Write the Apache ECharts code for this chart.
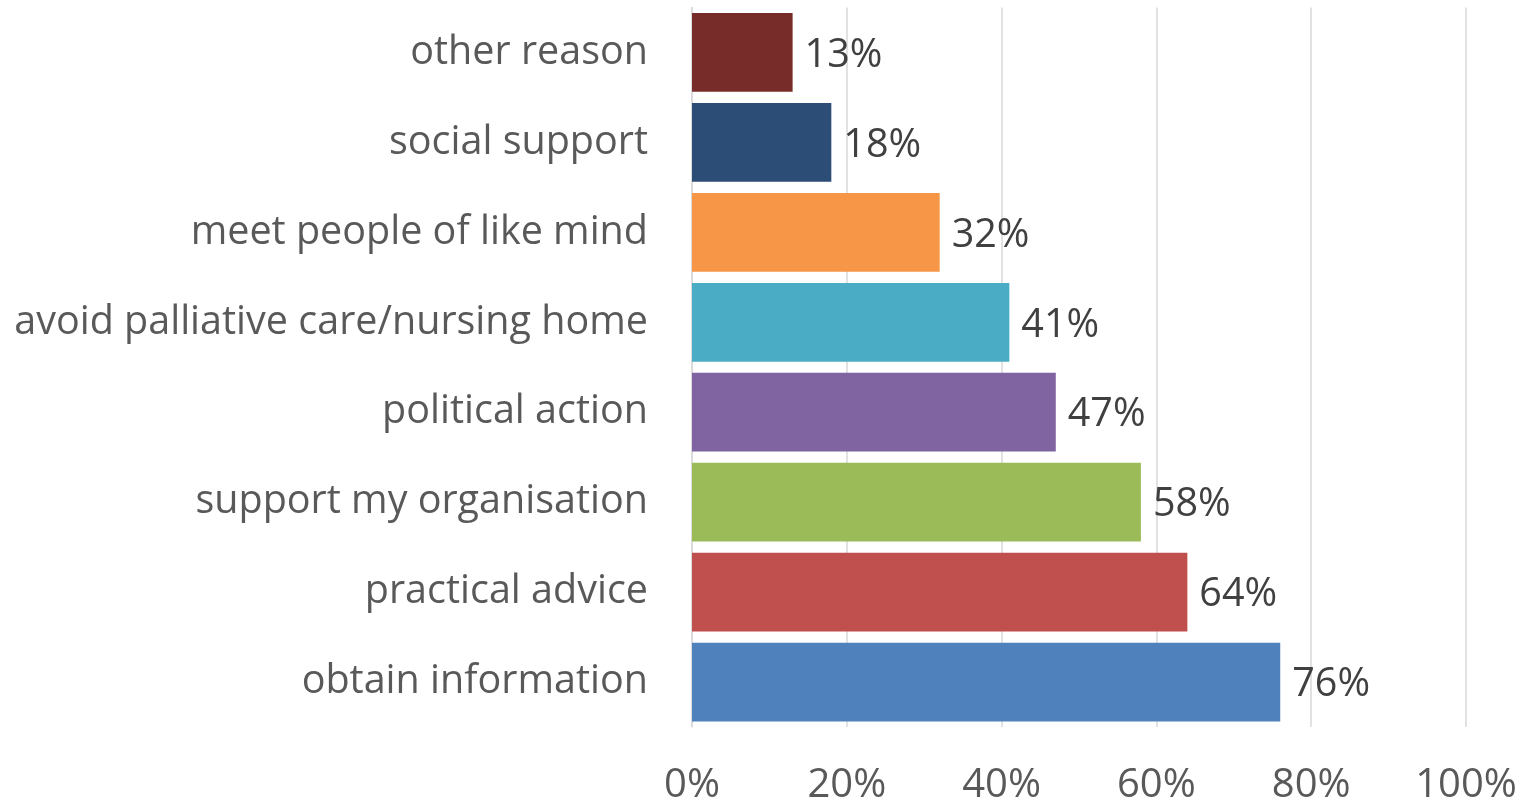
<!DOCTYPE html>
<html>
<head>
<meta charset="utf-8">
<script src="https://cdn.jsdelivr.net/npm/echarts@6/dist/echarts.min.js"></script>
<style>
    html, body { margin: 0; padding: 0; background: #fff; }
    #chart { width: 1524px; height: 801px; }
</style>
</head>
<body>
<div id="chart"></div>
<script>
// bottom to top, as the category axis draws them
var categories = ['obtain information', 'practical advice', 'support my organisation', 'political action',
    'avoid palliative care/nursing home', 'meet people of like mind', 'social support', 'other reason'];
var values = [76, 64, 58, 47, 41, 32, 18, 13];
var barColors = ['#4F81BD', '#C0504D', '#9BBB59', '#8064A2', '#4BACC6', '#F79646', '#2C4D75', '#772C2A'];
var xTicks = [0, 20, 40, 60, 80, 100];

var font = 'Open Sans';
var chart = echarts.init(document.getElementById('chart'));
chart.setOption({
    animation: false,
    grid: {
        left: 692,
        right: 58,
        top: 7.5,
        bottom: 74,
        containLabel: false,
        outerBoundsMode: 'none'
    },
    xAxis: {
        type: 'value',
        min: xTicks[0],
        max: xTicks[xTicks.length - 1],
        interval: 20,
        axisLine: {show: false},
        axisTick: {show: false},
        splitLine: {lineStyle: {color: '#d9d9d9', width: 1.5}},
        axisLabel: {
            formatter: '{value}%',
            color: '#595959',
            fontFamily: font,
            fontSize: 40,
            margin: 39
        }
    },
    yAxis: {
        type: 'category',
        data: categories,
        axisLine: {lineStyle: {color: '#d9d9d9', width: 1.5}},
        axisTick: {show: false},
        axisLabel: {
            color: '#595959',
            fontFamily: font,
            fontSize: 39.5,
            margin: 44,
            padding: [2, 0, 0, 0]
        }
    },
    series: [{
        type: 'bar',
        barCategoryGap: '12.5%',
        data: values.map(function (v, i) {
            return {value: v, itemStyle: {color: barColors[i]}};
        }),
        label: {
            show: true,
            position: 'right',
            distance: 12,
            offset: [0, 3],
            formatter: '{c}%',
            color: '#404040',
            fontFamily: font,
            fontSize: 39.5
        }
    }]
});
</script>
</body>
</html>
